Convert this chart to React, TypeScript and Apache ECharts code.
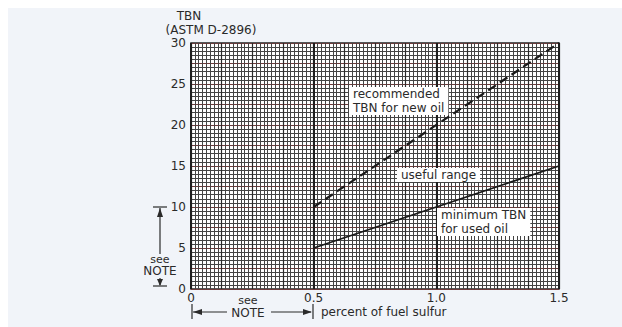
import React, { useEffect, useRef } from "react";
import * as echarts from "echarts";

const xTicks = [0, 0.5, 1.0, 1.5];
const xTickLabels = ["0", "0.5", "1.0", "1.5"];
const yTicks = [0, 5, 10, 15, 20, 25, 30];
const sulfur = [0.5, 1.5];
const recommendedTBN = [10, 30];
const minimumTBN = [5, 15];

export default function App() {
  const ref = useRef<HTMLDivElement>(null);
  useEffect(() => {
    const chart = echarts.init(ref.current!, null, { renderer: "svg" });
    const font = "'DejaVu Sans', 'Liberation Sans', Arial, sans-serif";
    const ink = "#2a2a2a";
    const fmtX = (v: number) => {
      const i = xTicks.findIndex((t) => Math.abs(t - v) < 1e-6);
      return i >= 0 ? xTickLabels[i] : "";
    };
    const fmtY = (v: number) => (yTicks.some((t) => Math.abs(t - v) < 1e-6) ? String(v) : "");
    const txt = (x: number, y: number, text: string, extra: any = {}) => ({
      type: "text",
      x,
      y,
      z: 10,
      style: {
        text,
        fill: ink,
        font: `12px ${font}`,
        lineHeight: 11,
        align: "center",
        verticalAlign: "middle",
        ...extra,
      },
    });
    const seg = (x1: number, y1: number, x2: number, y2: number) => ({
      type: "line",
      z: 10,
      shape: { x1, y1, x2, y2 },
      style: { stroke: ink, lineWidth: 1.2 },
    });
    const tri = (pts: number[][]) => ({
      type: "polygon",
      z: 10,
      shape: { points: pts },
      style: { fill: ink },
    });
    const box = (x: number, y: number, text: string) => ({
      type: "text",
      x,
      y,
      z: 10,
      style: {
        text,
        fill: ink,
        font: `12px ${font}`,
        lineHeight: 14,
        align: "left",
        verticalAlign: "top",
        backgroundColor: "#ffffff",
        padding: [0, 4, 0, 4],
      },
    });

    const gridLine = { color: "#444444", width: 1 };
    chart.setOption({
      animation: false,
      backgroundColor: "#f1f4f9",
      grid: {
        left: 191,
        right: 63,
        top: 43,
        bottom: 38,
        show: true,
        borderColor: "#222",
        borderWidth: 1.5,
        backgroundColor: "#ffffff",
      },
      xAxis: [
        {
          type: "value",
          min: 0,
          max: 1.5,
          interval: 0.125,
          axisLine: { show: false },
          axisTick: { show: false },
          axisLabel: { formatter: fmtX, color: ink, fontSize: 12, fontFamily: font, margin: 3, showMaxLabel: true, showMinLabel: true },
          splitLine: { show: true, lineStyle: { color: "#2a2a2a", width: 1.2 } },
          minorTick: { show: false, splitNumber: 8 },
          minorSplitLine: { show: true, lineStyle: gridLine },
        },
        {
          type: "value",
          min: 0,
          max: 1.5,
          interval: 0.5,
          position: "bottom",
          axisLine: { show: false },
          axisTick: { show: false },
          axisLabel: { show: false },
          splitLine: { show: true, lineStyle: { color: "#1e1e1e", width: 2 } },
        },
      ],
      yAxis: [
        {
          type: "value",
          min: 0,
          max: 30,
          interval: 2.5,
          axisLine: { show: false },
          axisTick: { show: false },
          axisLabel: { formatter: fmtY, color: ink, fontSize: 12, fontFamily: font, margin: 5 },
          splitLine: { show: true, lineStyle: { color: "#6e3a3a", width: 1.2 } },
          minorTick: { show: false, splitNumber: 5 },
          minorSplitLine: { show: true, lineStyle: gridLine },
        },
      ],
      series: [
        {
          type: "line",
          name: "recommended TBN for new oil",
          data: sulfur.map((s, i) => [s, recommendedTBN[i]]),
          showSymbol: false,
          z: 5,
          lineStyle: { color: "#1a1a1a", width: 2.2, type: [9, 5] },
        },
        {
          type: "line",
          name: "minimum TBN for used oil",
          data: sulfur.map((s, i) => [s, minimumTBN[i]]),
          showSymbol: false,
          z: 5,
          lineStyle: { color: "#1a1a1a", width: 1.8 },
        },
      ],
      graphic: [
        { type: "rect", shape: { x: 0, y: 0, width: 622, height: 8 }, style: { fill: "#ffffff" }, z: 1 },
        { type: "rect", shape: { x: 0, y: 0, width: 8, height: 327 }, style: { fill: "#ffffff" }, z: 1 },
        txt(189, 16, "TBN"),
        txt(211, 30, "(ASTM D-2896)"),
        box(349, 87, "recommended\nTBN for new oil"),
        box(397, 168, "useful range"),
        box(437, 208, "minimum TBN\nfor used oil"),
        // left vertical "see NOTE" bracket
        seg(153, 207, 167, 207),
        seg(160, 208, 160, 254),
        tri([[160, 208], [157, 217], [163, 217]]),
        txt(160, 259, "see", { font: `11px ${font}` }),
        txt(160, 271, "NOTE"),
        seg(160, 278, 160, 285),
        tri([[160, 286], [157, 279], [163, 279]]),
        seg(153, 286, 167, 286),
        // bottom "see NOTE" bracket
        seg(192, 304, 192, 319),
        seg(193, 312, 227, 312),
        tri([[193, 312], [202, 309], [202, 315]]),
        txt(248, 300, "see", { font: `11px ${font}` }),
        txt(248, 313, "NOTE"),
        seg(271, 312, 311, 312),
        tri([[312, 312], [303, 309], [303, 315]]),
        seg(313, 304, 313, 319),
        txt(321, 312, "percent of fuel sulfur", { align: "left" }),
      ],
    });
    return () => chart.dispose();
  }, []);
  return <div ref={ref} style={{ position: "fixed", left: 0, top: 0, width: 622, height: 327 }} />;
}
